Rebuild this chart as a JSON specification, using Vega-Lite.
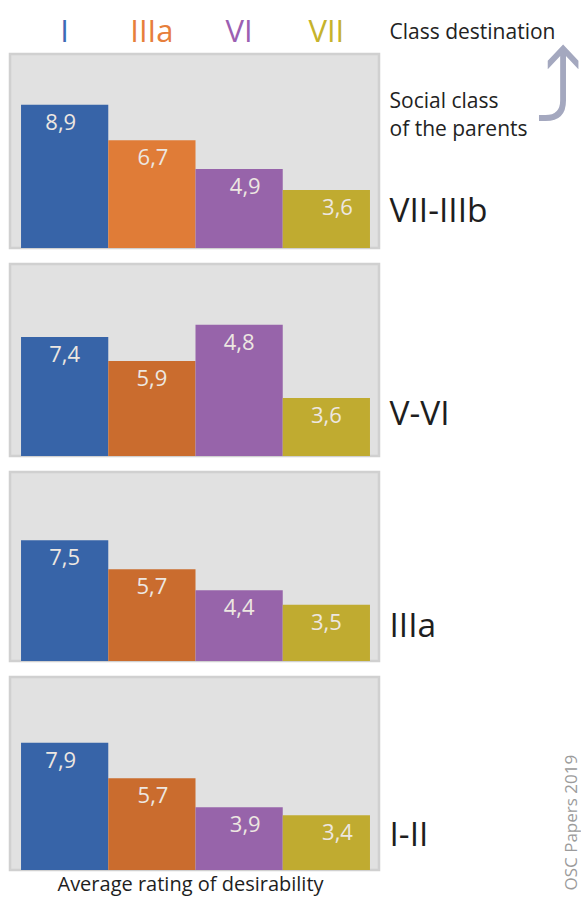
{
  "$schema": "https://vega.github.io/schema/vega-lite/v6.json",
  "padding": {"left": 8, "top": 14, "right": 0, "bottom": 0},
  "background": "white",
  "config": {
    "font": "Open Sans",
    "view": {"fill": "#e1e1e1", "stroke": "#d0d0d0", "strokeWidth": 2.5},
    "axis": {"labelFont": "Open Sans", "titleFont": "Open Sans"}
  },
  "data": {
    "values": [
      {"parent": "VII-IIIb", "dest": "I", "value": 8.9, "label": "8,9"},
      {"parent": "VII-IIIb", "dest": "IIIa", "value": 6.7, "label": "6,7"},
      {"parent": "VII-IIIb", "dest": "VI", "value": 4.9, "label": "4,9"},
      {"parent": "VII-IIIb", "dest": "VII", "value": 3.6, "label": "3,6"},
      {"parent": "V-VI", "dest": "I", "value": 7.4, "label": "7,4"},
      {"parent": "V-VI", "dest": "IIIa", "value": 5.9, "label": "5,9"},
      {"parent": "V-VI", "dest": "VI", "value": 8.15, "label": "4,8"},
      {"parent": "V-VI", "dest": "VII", "value": 3.6, "label": "3,6"},
      {"parent": "IIIa", "dest": "I", "value": 7.5, "label": "7,5"},
      {"parent": "IIIa", "dest": "IIIa", "value": 5.7, "label": "5,7"},
      {"parent": "IIIa", "dest": "VI", "value": 4.4, "label": "4,4"},
      {"parent": "IIIa", "dest": "VII", "value": 3.5, "label": "3,5"},
      {"parent": "I-II", "dest": "I", "value": 7.9, "label": "7,9"},
      {"parent": "I-II", "dest": "IIIa", "value": 5.7, "label": "5,7"},
      {"parent": "I-II", "dest": "VI", "value": 3.9, "label": "3,9"},
      {"parent": "I-II", "dest": "VII", "value": 3.4, "label": "3,4"}
    ]
  },
  "spacing": 12,
  "resolve": {"scale": {"color": "independent"}},
  "vconcat": [
    {
      "width": 369,
      "height": 194,
      "transform": [{"filter": "datum.parent === 'VII-IIIb'"}],
      "layer": [
        {
          "mark": {"type": "bar"},
          "encoding": {
            "x": {
              "field": "dest", "type": "nominal",
              "scale": {"domain": ["I", "IIIa", "VI", "VII"], "paddingInner": 0, "paddingOuter": 0.115, "align": 0.55},
              "axis": {
                "orient": "top", "domain": false, "ticks": false, "tickSize": 0, "grid": false,
                "labelPadding": 6, "labelFontSize": 31, "labelAngle": 0,
                "labelColor": {"condition": [
                  {"test": "datum.value === 'I'", "value": "#3d6ab5"},
                  {"test": "datum.value === 'IIIa'", "value": "#e77f3b"},
                  {"test": "datum.value === 'VI'", "value": "#9c5fb2"}
                ], "value": "#c6b32c"},
                "title": "Class destination", "titleX": 379, "titleY": -22,
                "titleAlign": "left", "titleBaseline": "middle", "titleAngle": 0,
                "titleFontSize": 21, "titleFontWeight": "normal", "titleColor": "#222222"
              }
            },
            "y": {
              "field": "value", "type": "quantitative",
              "scale": {"domain": [0, 12.05], "nice": false},
              "axis": {
                "orient": "right", "labels": false, "ticks": false, "domain": false, "grid": false,
                "title": ["Social class", "of the parents"], "titleX": 10, "titleY": 53,
                "titleAlign": "left", "titleBaseline": "alphabetic", "titleAngle": 0, "titleLineHeight": 28,
                "titleFontSize": 21, "titleFontWeight": "normal", "titleColor": "#222222"
              }
            },
            "color": {
              "field": "dest", "type": "nominal",
              "scale": {"domain": ["I", "IIIa", "VI", "VII"], "range": ["#3764a8", "#e07c37", "#9764aa", "#c0ab30"]},
              "legend": null
            }
          }
        },
        {
          "mark": {"type": "text", "baseline": "middle", "dy": 18, "fontSize": 22, "color": "#ede7e1", "font": "Open Sans"},
          "encoding": {
            "x": {
              "field": "dest", "type": "nominal",
              "scale": {"domain": ["I", "IIIa", "VI", "VII"], "paddingInner": 0, "paddingOuter": 0.115, "align": 0.55},
              "axis": {
                "orient": "bottom", "labels": false, "ticks": false, "domain": false, "grid": false,
                "title": "VII-IIIb", "titleX": 379, "titleY": -37,
                "titleAlign": "left", "titleBaseline": "middle", "titleAngle": 0,
                "titleFontSize": 33.5, "titleFontWeight": "normal", "titleColor": "#1e1e1e"
              }
            },
            "y": {
              "field": "value", "type": "quantitative",
              "scale": {"domain": [0, 12.05], "nice": false},
              "axis": {
                "orient": "right", "labels": false, "ticks": false, "domain": false, "grid": false,
                "title": "⤴", "titleX": 179, "titleY": 38,
                "titleAlign": "center", "titleBaseline": "middle", "titleAngle": 0,
                "titleFontSize": 100, "titleFont": "DejaVu Sans", "titleFontWeight": "normal", "titleColor": "#a4a8bf"
              }
            },
            "text": {"field": "label", "type": "nominal"}
          }
        }
      ],
      "resolve": {"scale": {"x": "independent", "y": "independent"}, "axis": {"x": "independent", "y": "independent"}}
    },
    {
      "width": 369,
      "height": 192,
      "transform": [{"filter": "datum.parent === 'V-VI'"}],
      "encoding": {
        "x": {
          "field": "dest", "type": "nominal",
          "scale": {"domain": ["I", "IIIa", "VI", "VII"], "paddingInner": 0, "paddingOuter": 0.115, "align": 0.55},
          "axis": {
            "orient": "bottom", "labels": false, "ticks": false, "domain": false, "grid": false,
            "title": "V-VI", "titleX": 379, "titleY": -42,
            "titleAlign": "left", "titleBaseline": "middle", "titleAngle": 0,
            "titleFontSize": 33.5, "titleFontWeight": "normal", "titleColor": "#1e1e1e"
          }
        },
        "y": {"field": "value", "type": "quantitative", "scale": {"domain": [0, 11.93], "nice": false}, "axis": null}
      },
      "layer": [
        {
          "mark": {"type": "bar"},
          "encoding": {
            "color": {
              "field": "dest", "type": "nominal",
              "scale": {"domain": ["I", "IIIa", "VI", "VII"], "range": ["#3764a8", "#ca6c2e", "#9764aa", "#c0ab30"]},
              "legend": null
            }
          }
        },
        {
          "mark": {"type": "text", "baseline": "middle", "dy": 18, "fontSize": 22, "color": "#ede7e1", "font": "Open Sans"},
          "encoding": {"text": {"field": "label", "type": "nominal"}}
        }
      ]
    },
    {
      "width": 369,
      "height": 189,
      "transform": [{"filter": "datum.parent === 'IIIa'"}],
      "encoding": {
        "x": {
          "field": "dest", "type": "nominal",
          "scale": {"domain": ["I", "IIIa", "VI", "VII"], "paddingInner": 0, "paddingOuter": 0.115, "align": 0.55},
          "axis": {
            "orient": "bottom", "labels": false, "ticks": false, "domain": false, "grid": false,
            "title": "IIIa", "titleX": 379, "titleY": -35,
            "titleAlign": "left", "titleBaseline": "middle", "titleAngle": 0,
            "titleFontSize": 33.5, "titleFontWeight": "normal", "titleColor": "#1e1e1e"
          }
        },
        "y": {"field": "value", "type": "quantitative", "scale": {"domain": [0, 11.74], "nice": false}, "axis": null}
      },
      "layer": [
        {
          "mark": {"type": "bar"},
          "encoding": {
            "color": {
              "field": "dest", "type": "nominal",
              "scale": {"domain": ["I", "IIIa", "VI", "VII"], "range": ["#3764a8", "#ca6c2e", "#9764aa", "#c0ab30"]},
              "legend": null
            }
          }
        },
        {
          "mark": {"type": "text", "baseline": "middle", "dy": 18, "fontSize": 22, "color": "#ede7e1", "font": "Open Sans"},
          "encoding": {"text": {"field": "label", "type": "nominal"}}
        }
      ]
    },
    {
      "width": 369,
      "height": 193,
      "transform": [{"filter": "datum.parent === 'I-II'"}],
      "layer": [
        {
          "mark": {"type": "bar"},
          "encoding": {
            "x": {
              "field": "dest", "type": "nominal",
              "scale": {"domain": ["I", "IIIa", "VI", "VII"], "paddingInner": 0, "paddingOuter": 0.115, "align": 0.55},
              "axis": {
                "orient": "bottom", "labels": false, "ticks": false, "domain": false, "grid": false,
                "title": "Average rating of desirability", "titleX": 180, "titleY": 4,
                "titleAlign": "center", "titleBaseline": "top", "titleAngle": 0,
                "titleFontSize": 20, "titleFontWeight": "normal", "titleColor": "#1e1e1e"
              }
            },
            "y": {"field": "value", "type": "quantitative", "scale": {"domain": [0, 11.99], "nice": false}, "axis": null},
            "color": {
              "field": "dest", "type": "nominal",
              "scale": {"domain": ["I", "IIIa", "VI", "VII"], "range": ["#3764a8", "#ca6c2e", "#9764aa", "#c0ab30"]},
              "legend": null
            }
          }
        },
        {
          "mark": {"type": "text", "baseline": "middle", "dy": 18, "fontSize": 22, "color": "#ede7e1", "font": "Open Sans"},
          "encoding": {
            "x": {
              "field": "dest", "type": "nominal",
              "scale": {"domain": ["I", "IIIa", "VI", "VII"], "paddingInner": 0, "paddingOuter": 0.115, "align": 0.55},
              "axis": {
                "orient": "bottom", "labels": false, "ticks": false, "domain": false, "grid": false,
                "title": "I-II", "titleX": 379, "titleY": -35,
                "titleAlign": "left", "titleBaseline": "middle", "titleAngle": 0,
                "titleFontSize": 33.5, "titleFontWeight": "normal", "titleColor": "#1e1e1e"
              }
            },
            "y": {
              "field": "value", "type": "quantitative",
              "scale": {"domain": [0, 11.99], "nice": false},
              "axis": {
                "orient": "right", "labels": false, "ticks": false, "domain": false, "grid": false,
                "title": "OSC Papers 2019", "titleX": 192, "titleY": 213,
                "titleAlign": "left", "titleBaseline": "middle", "titleAngle": 270,
                "titleFontSize": 17, "titleFontWeight": "normal", "titleColor": "#9b9b9b"
              }
            },
            "text": {"field": "label", "type": "nominal"}
          }
        }
      ],
      "resolve": {"scale": {"x": "independent", "y": "independent"}, "axis": {"x": "independent", "y": "independent"}}
    }
  ]
}
